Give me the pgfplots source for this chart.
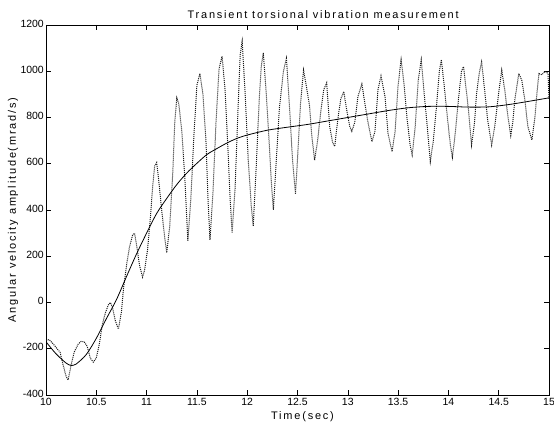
\documentclass[border=0pt]{standalone}
\usepackage{fontspec}
\setmainfont{Liberation Sans}
\newfontfamily\lblfont[LetterSpace=16.5]{Liberation Sans}
\usepackage{pgfplots}
\pgfplotsset{compat=1.18}

\begin{document}
\begin{tikzpicture}
\useasboundingbox (-46bp,-28bp) rectangle (508bp,395bp);
\begin{axis}[
  at={(0,0)}, anchor=south west,
  scale only axis, width=503bp, height=370bp,
  xmin=10, xmax=15, ymin=-400, ymax=1200,
  xtick={10,10.5,11,11.5,12,12.5,13,13.5,14,14.5,15},
  xticklabels={10,10.5,11,11.5,12,12.5,13,13.5,14,14.5,15},
  ytick={-400,-200,0,200,400,600,800,1000,1200},
  yticklabels={-400,-200,0,200,400,600,800,1000,1200},
  tick pos=both, tick align=inside, major tick length=5bp,
  tick style={black, line width=0.6bp},
  axis line style={black, line width=0.8bp},
  tick label style={font=\fontsize{10.5}{12}\selectfont},
  xticklabel style={anchor=north, inner sep=3bp},
  yticklabel style={anchor=east, inner sep=2bp, yshift=1.5bp},
  title={Transient torsional vibration measurement},
  title style={at={(0.551,1)}, anchor=base, yshift=1bp, inner sep=0pt, font=\fontsize{11}{13}\lblfont},
  xlabel={Time(sec)},
  xlabel style={at={(0.51,0)}, anchor=base, yshift=-25bp, inner sep=0pt, font=\fontsize{11}{13}\lblfont},
  ylabel={Angular velocity amplitude(mrad/s)},
  ylabel style={at={(-0.0656,0.5)}, anchor=center, inner sep=0pt, font=\fontsize{11}{13}\lblfont},
  clip=true,
]
% oscillating measured signal
\addplot[black!90, densely dotted, line width=1bp] coordinates {
(10.00,-165) (10.03,-160) (10.07,-178) (10.11,-200) (10.14,-215) (10.17,-270)
(10.20,-320) (10.22,-335) (10.25,-270) (10.28,-215) (10.32,-180) (10.35,-168)
(10.38,-170) (10.41,-190) (10.44,-240) (10.47,-258) (10.50,-240) (10.53,-180)
(10.56,-95) (10.59,-45) (10.62,-10) (10.64,0) (10.66,-20) (10.69,-80)
(10.72,-115) (10.75,-40) (10.77,60) (10.80,160) (10.83,240) (10.86,290)
(10.88,300) (10.90,250) (10.93,160) (10.96,110) (10.98,140) (11.01,230)
(11.04,380) (11.06,500) (11.08,590) (11.10,605) (11.12,530) (11.15,400)
(11.18,280) (11.20,215) (11.23,330) (11.26,560) (11.28,780) (11.30,885)
(11.32,860) (11.35,740) (11.38,540) (11.41,265) (11.44,450) (11.47,720)
(11.50,940) (11.53,990) (11.56,900) (11.59,700) (11.61,450) (11.63,270)
(11.66,480) (11.69,780) (11.72,1010) (11.75,1065) (11.78,920) (11.81,650)
(11.83,450) (11.85,300) (11.88,500) (11.91,850) (11.93,1070) (11.95,1130)
(11.98,900) (12.01,620) (12.04,420) (12.06,330) (12.09,590) (12.12,880)
(12.14,1020) (12.16,1080) (12.19,900) (12.22,680) (12.24,520) (12.26,400)
(12.29,620) (12.32,840) (12.36,1000) (12.39,1056) (12.42,850) (12.45,620)
(12.48,470) (12.50,620) (12.53,860) (12.56,1005) (12.59,930) (12.62,850)
(12.64,730) (12.67,615) (12.70,700) (12.73,820) (12.76,920) (12.79,950)
(12.82,760) (12.85,690) (12.87,675) (12.90,790) (12.93,880) (12.96,912)
(12.99,830) (13.02,760) (13.04,740) (13.07,780) (13.10,890) (13.14,945)
(13.17,860) (13.20,780) (13.24,695) (13.27,740) (13.30,920) (13.33,980)
(13.37,890) (13.40,730) (13.44,652) (13.47,740) (13.50,940) (13.53,1050)
(13.56,940) (13.59,790) (13.62,680) (13.64,638) (13.67,760) (13.70,960)
(13.73,1050) (13.76,900) (13.79,760) (13.82,609) (13.85,700) (13.88,840)
(13.91,1000) (13.93,1050) (13.96,930) (13.99,800) (14.02,680) (14.04,628)
(14.07,740) (14.10,880) (14.13,1000) (14.15,1020) (14.18,910) (14.20,830)
(14.23,681) (14.26,780) (14.28,905) (14.31,1000) (14.33,1040) (14.36,920)
(14.39,790) (14.43,681) (14.46,760) (14.50,905) (14.53,1005) (14.56,920)
(14.59,810) (14.62,722) (14.64,780) (14.66,876) (14.70,990) (14.73,960)
(14.76,876) (14.79,760) (14.83,703) (14.86,800) (14.88,905) (14.90,990)
(14.93,985) (14.96,1000) (14.99,990) (15.00,880)
};
% smooth trend
\addplot[black, line width=0.8bp, smooth] coordinates {
(10.0,-170) (10.1,-222) (10.2,-262) (10.25,-272) (10.3,-266) (10.4,-225)
(10.5,-155) (10.6,-70) (10.7,12) (10.8,112) (10.9,210) (11.0,300)
(11.1,385) (11.2,450) (11.3,510) (11.4,560) (11.5,602) (11.6,640)
(11.7,666) (11.8,690) (11.9,710) (12.0,724) (12.2,745) (12.4,758)
(12.6,770) (12.8,785) (13.0,800) (13.2,815) (13.4,830) (13.6,842)
(13.8,848) (14.0,848) (14.2,845) (14.4,846) (14.6,856) (14.8,870) (15.0,885)
};
\end{axis}
\end{tikzpicture}
\end{document}
